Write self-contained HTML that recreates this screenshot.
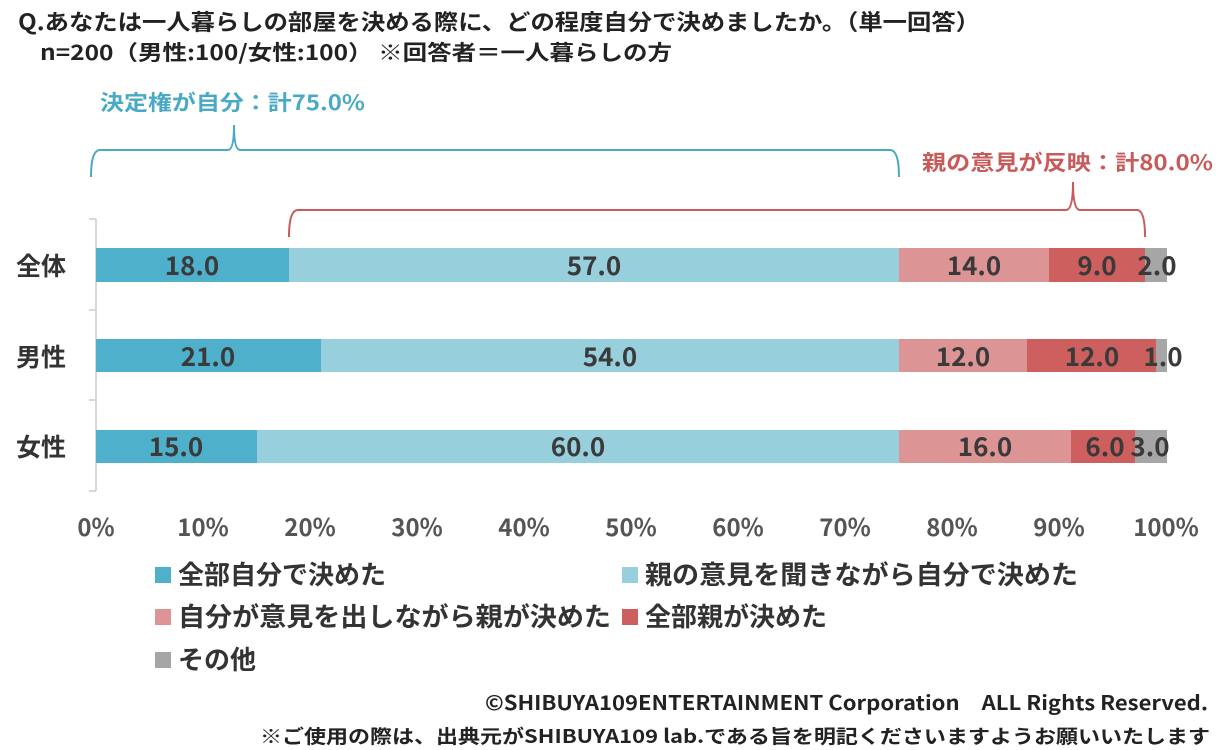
<!DOCTYPE html>
<html><head><meta charset="utf-8"><style>
body{margin:0;background:#fff;}
svg{display:block;font-family:"Noto Sans CJK JP","Liberation Sans",sans-serif;}
.t{font-weight:bold;fill:#222;font-size:21px}
.v{font-weight:bold;fill:#3a3a3a;font-size:26px;text-anchor:middle}
.ax{font-weight:bold;fill:#555;font-size:24px;text-anchor:middle}
.lg{font-weight:bold;fill:#333;font-size:26px}
</style></head><body>
<svg width="1229" height="750" viewBox="0 0 1229 750">
<text x="18" y="30" class="t" style="font-size:22px" textLength="962" lengthAdjust="spacingAndGlyphs">Q.あなたは一人暮らしの部屋を決める際に、どの程度自分で決めましたか。（単一回答）</text>
<text x="40" y="60" class="t" style="font-size:21px" textLength="632" lengthAdjust="spacingAndGlyphs">n=200（男性:100/女性:100） ※回答者＝一人暮らしの方</text>
<text x="100" y="110" font-size="21" font-weight="bold" fill="#4aa9c4" textLength="265" lengthAdjust="spacingAndGlyphs">決定権が自分：計75.0%</text>
<text x="922" y="170" font-size="21" font-weight="bold" fill="#c85a5a" textLength="291" lengthAdjust="spacingAndGlyphs">親の意見が反映：計80.0%</text>
<path d="M91,177 Q91,150 100,150 L228,150 Q234,150 234,125 Q234,150 240,150 L890,150 Q899,150 899,177" fill="none" stroke="#4aa9c4" stroke-width="2"/>
<path d="M289,237 Q289,210 298,210 L1066,210 Q1073,210 1073,182 Q1073,210 1080,210 L1137,210 Q1145,210 1145,237" fill="none" stroke="#c85a5a" stroke-width="2"/>
<g stroke="#ccc" stroke-width="1.5"><line x1="96" y1="219" x2="96" y2="491"/><line x1="89" y1="219" x2="96" y2="219"/><line x1="89" y1="310" x2="96" y2="310"/><line x1="89" y1="400" x2="96" y2="400"/><line x1="89" y1="491" x2="96" y2="491"/></g>
<g>
<rect x="96" y="248" width="193" height="34" fill="#4fb0cb"/><rect x="289" y="248" width="610" height="34" fill="#98cfdd"/><rect x="899" y="248" width="150" height="34" fill="#dc9494"/><rect x="1049" y="248" width="96" height="34" fill="#cd5f5f"/><rect x="1145" y="248" width="22" height="34" fill="#a6a6a6"/>
<rect x="96" y="339" width="225" height="33" fill="#4fb0cb"/><rect x="321" y="339" width="578" height="33" fill="#98cfdd"/><rect x="899" y="339" width="128" height="33" fill="#dc9494"/><rect x="1027" y="339" width="129" height="33" fill="#cd5f5f"/><rect x="1156" y="339" width="11" height="33" fill="#a6a6a6"/>
<rect x="96" y="430" width="161" height="33" fill="#4fb0cb"/><rect x="257" y="430" width="642" height="33" fill="#98cfdd"/><rect x="899" y="430" width="172" height="33" fill="#dc9494"/><rect x="1071" y="430" width="64" height="33" fill="#cd5f5f"/><rect x="1135" y="430" width="32" height="33" fill="#a6a6a6"/>
</g>
<g class="v">
<text x="192" y="275">18.0</text><text x="594" y="275">57.0</text><text x="974" y="275">14.0</text><text x="1097" y="275">9.0</text><text x="1157" y="275">2.0</text>
<text x="208" y="366">21.0</text><text x="610" y="366">54.0</text><text x="963" y="366">12.0</text><text x="1092" y="366">12.0</text><text x="1163" y="366">1.0</text>
<text x="176" y="456">15.0</text><text x="578" y="456">60.0</text><text x="985" y="456">16.0</text><text x="1105" y="456">6.0</text><text x="1150" y="456">3.0</text>
</g>
<g class="t" style="font-size:25px;fill:#333"><text x="16" y="275">全体</text><text x="16" y="366">男性</text><text x="16" y="456">女性</text></g>
<g class="ax">
<text x="96" y="536">0%</text><text x="203" y="536">10%</text><text x="310" y="536">20%</text><text x="417" y="536">30%</text><text x="524" y="536">40%</text><text x="631" y="536">50%</text><text x="738" y="536">60%</text><text x="845" y="536">70%</text><text x="952" y="536">80%</text><text x="1059" y="536">90%</text><text x="1166" y="536">100%</text>
</g>
<rect x="155" y="567" width="16" height="16" fill="#4fb0cb"/><text x="178" y="584" class="lg">全部自分で決めた</text>
<rect x="622" y="567" width="16" height="16" fill="#98cfdd"/><text x="645" y="584" class="lg" textLength="433" lengthAdjust="spacingAndGlyphs">親の意見を聞きながら自分で決めた</text>
<rect x="155" y="609" width="16" height="16" fill="#dc9494"/><text x="178" y="626" class="lg" textLength="433" lengthAdjust="spacingAndGlyphs">自分が意見を出しながら親が決めた</text>
<rect x="622" y="609" width="16" height="16" fill="#cd5f5f"/><text x="645" y="626" class="lg">全部親が決めた</text>
<rect x="155" y="652" width="16" height="16" fill="#a6a6a6"/><text x="178" y="669" class="lg">その他</text>
<text x="485" y="710" font-size="20" font-weight="bold" fill="#222" textLength="723" lengthAdjust="spacingAndGlyphs">©SHIBUYA109ENTERTAINMENT Corporation　ALL Rights Reserved.</text>
<text x="260" y="743" font-size="19" font-weight="bold" fill="#222" textLength="950" lengthAdjust="spacingAndGlyphs">※ご使用の際は、出典元がSHIBUYA109 lab.である旨を明記くださいますようお願いいたします</text>
</svg>
</body></html>
